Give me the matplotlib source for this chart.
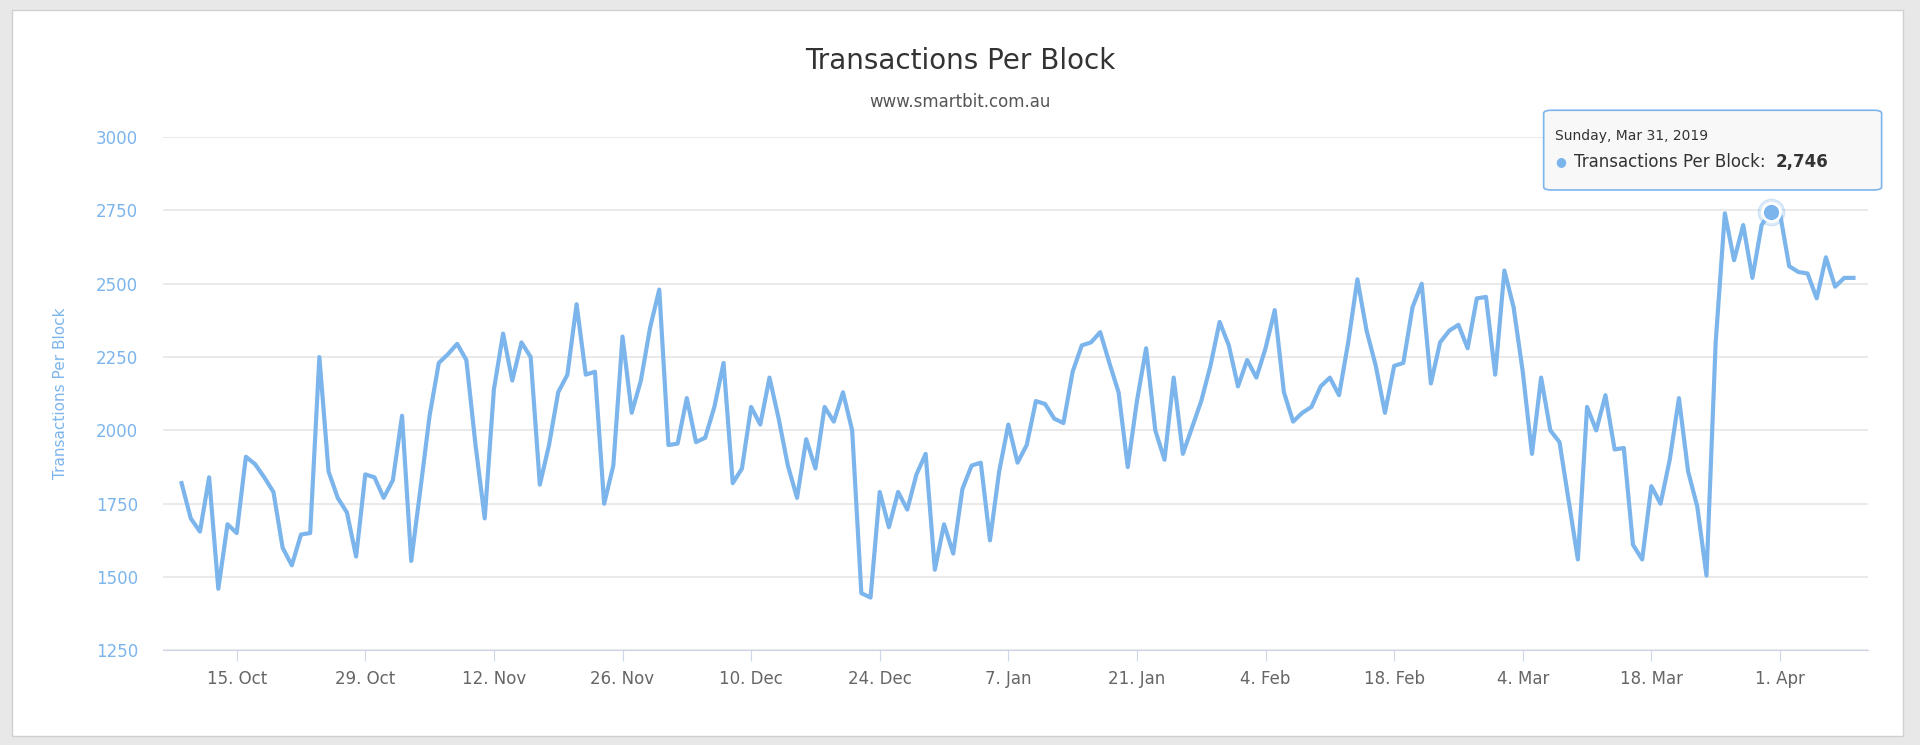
import numpy as np
import matplotlib.pyplot as plt
import matplotlib.dates as mdates
from matplotlib.patches import FancyBboxPatch
import datetime as dt

start_date = dt.date(2018, 10, 9)
tx_per_block = [
    1820, 1700, 1655, 1840, 1460, 1680, 1650, 1910, 1885, 1840, 1790, 1600, 1540, 1645, 1650,
    2250, 1860, 1770, 1720, 1570, 1850, 1840, 1770, 1830, 2050, 1555, 1800, 2050, 2230, 2260,
    2295, 2240, 1950, 1700, 2140, 2330, 2170, 2300, 2250, 1815, 1950, 2130, 2190, 2430, 2190,
    2200, 1750, 1880, 2320, 2060, 2170, 2350, 2480, 1950, 1955, 2110, 1960, 1975, 2080, 2230,
    1820, 1870, 2080, 2020, 2180, 2040, 1880, 1770, 1970, 1870, 2080, 2030, 2130, 2000, 1445,
    1430, 1790, 1670, 1790, 1730, 1850, 1920, 1525, 1680, 1580, 1800, 1880, 1890, 1625, 1860,
    2020, 1890, 1950, 2100, 2090, 2040, 2025, 2200, 2290, 2300, 2335, 2230, 2130, 1875, 2100,
    2280, 2000, 1900, 2180, 1920, 2010, 2100, 2220, 2370, 2290, 2150, 2240, 2180, 2280, 2410,
    2130, 2030, 2060, 2080, 2150, 2180, 2120, 2300, 2515, 2340, 2220, 2060, 2220, 2230, 2420,
    2500, 2160, 2300, 2340, 2360, 2280, 2450, 2455, 2190, 2545, 2420, 2200, 1920, 2180, 2000,
    1960, 1760, 1560, 2080, 2000, 2120, 1935, 1940, 1610, 1560, 1810, 1750, 1900, 2110, 1860,
    1740, 1505, 2300, 2740, 2580, 2700, 2520, 2700, 2746, 2740, 2560, 2540, 2535, 2450, 2590,
    2490, 2520, 2520,
]
dates = [start_date + dt.timedelta(days=i) for i in range(len(tx_per_block))]
tick_dates = [dt.date(2018, 10, 15) + dt.timedelta(days=14 * i) for i in range(13)]
y_ticks = [1250, 1500, 1750, 2000, 2250, 2500, 2750, 3000]

line_color = '#7cb5ec'

fig = plt.figure(figsize=(19.2, 7.45), dpi=100)
fig.patch.set_facecolor('#e8e8e8')
# white card
fig.patches.append(FancyBboxPatch((0.006, 0.012), 0.985, 0.975, boxstyle='square,pad=0',
                                  transform=fig.transFigure, facecolor='white',
                                  edgecolor='#d0d0d0', zorder=-1))

ax = fig.add_axes([0.085, 0.127, 0.888, 0.689])
ax.set_facecolor('white')
ax.plot(dates, tx_per_block, color=line_color, linewidth=3, zorder=3)

ax.set_ylim(1250, 3000)
ax.set_yticks(y_ticks)
ax.set_yticklabels([str(v) for v in y_ticks], color=line_color, fontsize=12)
ax.set_xlim(mdates.date2num(dt.date(2018, 10, 7)), mdates.date2num(dt.date(2019, 4, 10)) + 0.6)
ax.set_xticks(tick_dates)
ax.xaxis.set_major_formatter(mdates.DateFormatter('%-d. %b'))
ax.tick_params(axis='x', colors='#666666', labelsize=12, length=8, color='#ccd6eb', pad=6)
ax.tick_params(axis='y', length=0, pad=18)
ax.grid(axis='y', color='#e6e6e6', linewidth=1.2)
for s in ['top', 'right', 'left']:
    ax.spines[s].set_visible(False)
ax.spines['bottom'].set_color('#ccd6eb')
ax.set_ylabel('Transactions Per Block', color=line_color, fontsize=11)
ax.yaxis.set_label_coords(-0.056, 0.5)

fig.text(0.5, 0.918, 'Transactions Per Block', ha='center', va='center', fontsize=20, color='#333333')
fig.text(0.5, 0.863, 'www.smartbit.com.au', ha='center', va='center', fontsize=12, color='#555555')

# hovered point + tooltip
hi = dates.index(dt.date(2019, 3, 31))
ax.plot(dates[hi], tx_per_block[hi], 'o', markersize=13, color=line_color,
        markeredgecolor='white', markeredgewidth=2, zorder=5)
ax.plot(dates[hi], tx_per_block[hi], 'o', markersize=19, color=line_color, alpha=0.25, zorder=4)
fig.patches.append(FancyBboxPatch((0.804, 0.745), 0.176, 0.107, boxstyle='round,pad=0,rounding_size=0.004',
                                  transform=fig.transFigure, facecolor='#f8f8f8',
                                  edgecolor=line_color, linewidth=1.2, zorder=6))
fig.text(0.810, 0.818, 'Sunday, Mar 31, 2019', fontsize=10, color='#333333', va='center', zorder=7)
fig.text(0.810, 0.783, '\u25cf', fontsize=9, color=line_color, va='center', zorder=7)
fig.text(0.820, 0.783, 'Transactions Per Block:', fontsize=12, color='#333333', va='center', zorder=7)
fig.text(0.925, 0.783, '2,746', fontsize=12, color='#333333', va='center', fontweight='bold',
         ha='left', zorder=7)

fig.savefig('out.png', dpi=100, facecolor=fig.get_facecolor())
